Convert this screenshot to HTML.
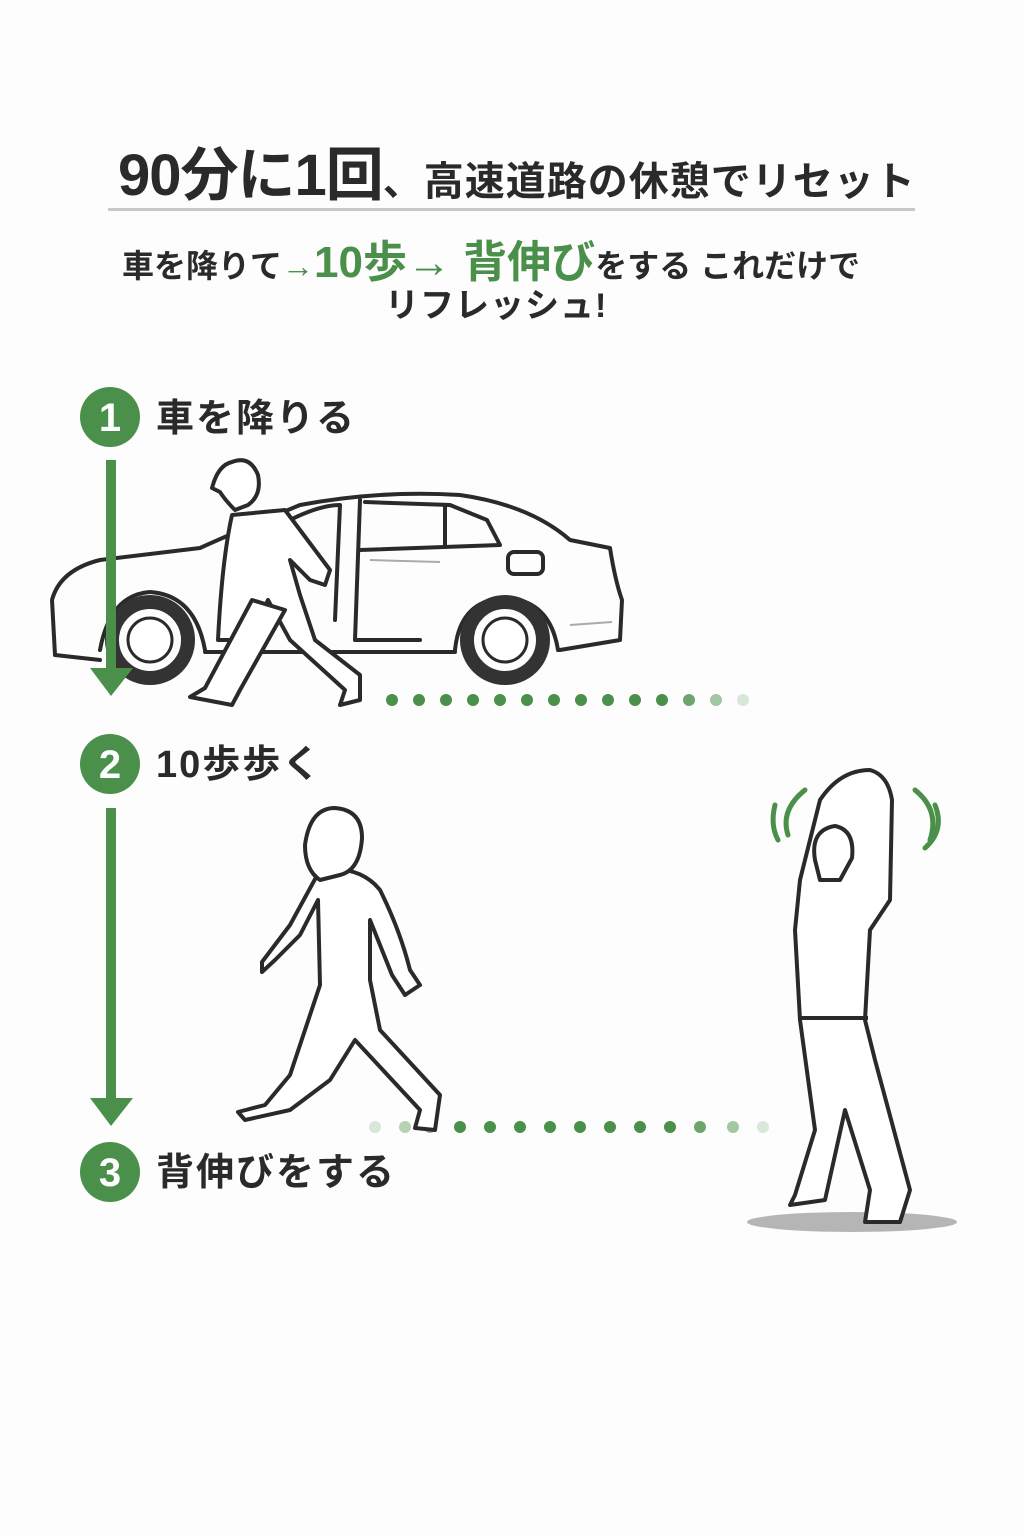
<!DOCTYPE html>
<html><head><meta charset="utf-8"><style>
body{margin:0;width:1024px;height:1536px;background:#fdfdfd;position:relative;overflow:hidden;font-family:"Liberation Sans","Noto Sans CJK JP",sans-serif;color:#2a2a2a}
.a{position:absolute;white-space:nowrap}
.g{color:#4a8f4a}
</style></head><body>
<div class="a" style="left:118px;top:128px;font-weight:bold;font-size:58px;letter-spacing:-1px">90分に1回<span style="font-size:40px;font-weight:bold;letter-spacing:1px">、高速道路の休憩でリセット</span></div>
<div class="a" style="left:108px;top:208px;width:807px;height:3px;background:#c8c8c8"></div>
<div class="a" style="left:122px;top:226px;font-size:32px;font-weight:bold">車を降りて<span class="g">→</span><span class="g" style="font-size:44px">10歩→ 背伸び</span>をする これだけで</div>
<div class="a" style="left:385px;top:278px;font-size:34px;font-weight:bold;letter-spacing:1px">リフレッシュ!</div>
<svg class="a" style="left:0;top:0" width="1024" height="1536" viewBox="0 0 1024 1536">
<!-- car -->
<g fill="none" stroke="#2a2a2a" stroke-width="4" stroke-linejoin="round" stroke-linecap="round">
<path d="M55,655 L52,600 Q60,570 100,560 L200,548 Q240,530 300,505 Q380,490 460,495 Q530,505 570,540 L610,548 Q615,580 622,600 L620,640 L560,650"/>
<path d="M100,650 Q110,595 150,592 Q195,595 205,650"/>
<path d="M455,650 Q460,600 505,598 Q550,600 558,650"/>
<path d="M55,655 L100,660 M205,652 L455,652"/>
<path d="M360,500 L355,640 L420,640 M360,550 L500,545 L487,520 L450,505 L365,502"/>
<path d="M445,505 L445,545"/>
<rect x="508" y="552" width="35" height="22" rx="6"/>
<path d="M290,520 Q320,505 340,505 L335,620"/>
</g>
<g fill="none" stroke="#333" stroke-width="14"><circle cx="150" cy="640" r="38"/><circle cx="505" cy="640" r="38"/></g>
<g fill="#fff" stroke="#2a2a2a" stroke-width="3"><circle cx="150" cy="640" r="22"/><circle cx="505" cy="640" r="22"/></g>
<path d="M370,560 L440,562 M570,625 L612,622" stroke="#aaa" stroke-width="2"/>
<g fill="#4a8f4a">
<circle cx="110" cy="417" r="30"/><circle cx="110" cy="764" r="30"/><circle cx="110" cy="1172" r="30"/>
<rect x="106" y="460" width="10" height="210"/><polygon points="90,668 133,668 111,696"/>
<rect x="106" y="808" width="10" height="292"/><polygon points="90,1098 133,1098 111,1126"/>
</g>
<g fill="#fff" font-weight="bold" font-size="40" text-anchor="middle" font-family="Liberation Sans">
<text x="110" y="431">1</text><text x="110" y="778">2</text><text x="110" y="1186">3</text></g>
<g font-weight="bold" font-size="38" fill="#2a2a2a" font-family="Liberation Sans,Noto Sans CJK JP" letter-spacing="2">
<text x="156" y="431">車を降りる</text><text x="156" y="777">10歩歩く</text><text x="156" y="1185">背伸びをする</text></g>
<g fill="#4a8f4a">
<circle cx="392" cy="700" r="6"/><circle cx="419" cy="700" r="6"/><circle cx="446" cy="700" r="6"/><circle cx="473" cy="700" r="6"/><circle cx="500" cy="700" r="6"/><circle cx="527" cy="700" r="6"/><circle cx="554" cy="700" r="6"/><circle cx="581" cy="700" r="6"/><circle cx="608" cy="700" r="6"/><circle cx="635" cy="700" r="6"/><circle cx="662" cy="700" r="6"/><circle cx="689" cy="700" r="6" opacity=".8"/><circle cx="716" cy="700" r="6" opacity=".5"/><circle cx="743" cy="700" r="6" opacity=".2"/>
<circle cx="375" cy="1127" r="6" opacity=".2"/><circle cx="405" cy="1127" r="6" opacity=".4"/><circle cx="430" cy="1127" r="6" opacity=".6"/><circle cx="460" cy="1127" r="6"/><circle cx="490" cy="1127" r="6"/><circle cx="520" cy="1127" r="6"/><circle cx="550" cy="1127" r="6"/><circle cx="580" cy="1127" r="6"/><circle cx="610" cy="1127" r="6"/><circle cx="640" cy="1127" r="6"/><circle cx="670" cy="1127" r="6"/><circle cx="700" cy="1127" r="6" opacity=".8"/><circle cx="733" cy="1127" r="6" opacity=".5"/><circle cx="763" cy="1127" r="6" opacity=".2"/>
</g>
<!-- person 1 -->
<g fill="#fff" stroke="#2a2a2a" stroke-width="4" stroke-linejoin="round">
<path d="M232,515 Q222,560 218,640 L250,640 L268,600 L290,640 L345,690 L340,705 L360,700 L360,675 L315,640 L300,595 L290,560 L310,580 L325,585 L330,570 L285,510 Z"/>
<path d="M252,600 L205,688 L190,697 L232,705 L240,690 L285,610 Z"/>
<path d="M232,462 Q250,455 258,475 Q262,495 248,505 L235,510 Q225,500 220,492 L212,488 Q218,465 232,462 Z"/>
</g>
<!-- person 2 walking -->
<g fill="#fff" stroke="#2a2a2a" stroke-width="4" stroke-linejoin="round">
<path d="M320,870 Q360,865 380,890 Q400,930 410,970 L420,985 L405,995 L392,975 L370,920 L370,980 L380,1030 L440,1095 L435,1130 L415,1128 L420,1110 L355,1040 L330,1080 L290,1110 L245,1120 L238,1112 L265,1105 L290,1075 L320,985 L318,900 L300,935 L275,960 L262,972 L262,962 L290,925 Z"/>
<path d="M320,880 Q305,870 305,845 Q310,808 335,808 Q362,810 362,838 Q360,870 340,875 Z"/>
</g>
<!-- person 3 stretching -->
<ellipse cx="852" cy="1222" rx="105" ry="10" fill="#b5b5b5"/>
<g fill="#fff" stroke="#2a2a2a" stroke-width="4" stroke-linejoin="round">
<path d="M800,880 L820,800 Q840,770 870,770 Q888,775 892,800 L890,900 L870,930 L865,1020 L875,1060 L910,1190 L900,1222 L865,1222 L870,1190 L845,1110 L825,1200 L790,1205 L795,1195 L815,1130 L800,1020 L795,930 Z"/>
<path d="M815,860 Q810,830 835,826 Q855,830 852,858 L840,880 L820,880 Z"/>
<path d="M800,1018 L868,1018"/>
</g>
<g fill="none" stroke="#4a8f4a" stroke-width="5" stroke-linecap="round">
<path d="M805,790 Q780,810 788,835"/><path d="M775,805 Q770,825 778,840"/>
<path d="M915,790 Q940,810 930,840"/><path d="M935,805 Q945,830 925,848"/>
</g>
</svg>
</body></html>
